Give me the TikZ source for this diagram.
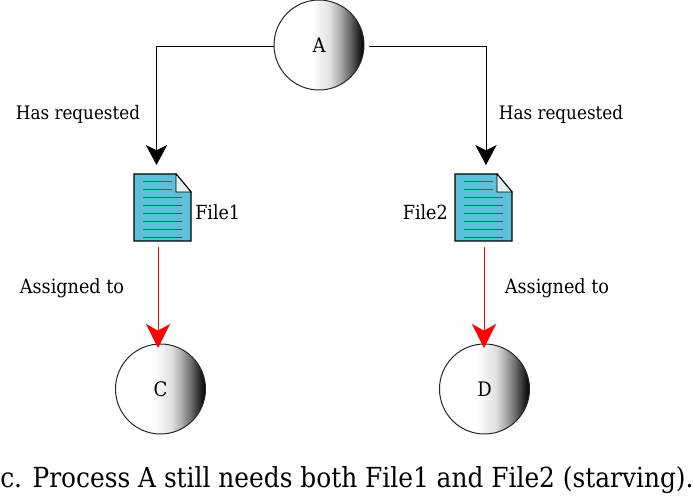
\documentclass[tikz,border=0pt]{standalone}
\usepackage{fontspec}
\setmainfont{DejaVu Serif Condensed}
\usetikzlibrary{arrows.meta}
\definecolor{docblue}{HTML}{5FC0DC}
\definecolor{docfold}{HTML}{E2F1EE}
\definecolor{docline}{HTML}{35606F}
\pgfdeclarehorizontalshading{procshade}{100bp}{color(0bp)=(white);color(25bp)=(white);color(46bp)=(white);color(56bp)=(white!88!black);color(61.5bp)=(white!68!black);color(67bp)=(white!42!black);color(72.5bp)=(white!12!black);color(75bp)=(black);color(100bp)=(black)}
\tikzset{
  x=0.75pt,y=-0.75pt,
  proc/.style={circle,draw=black!85,line width=0.75pt,minimum size=67.5pt,inner sep=0pt,shading=procshade,font=\fontsize{15}{18}\selectfont},
  filebox/.style={minimum width=42.75pt,minimum height=50.25pt,inner sep=0pt},
  reqlbl/.style={font=\fontsize{14}{17}\selectfont,inner sep=0pt},
  asglbl/.style={font=\fontsize{14.7}{17}\selectfont,inner sep=0pt},
  flbl/.style={font=\fontsize{14.6}{17}\selectfont,inner sep=0pt},
  req/.style={draw=black,line width=0.75pt,-{Stealth[length=15pt,width=16pt,inset=4pt]}},
  asg/.style={draw=red,line width=0.75pt,-{Stealth[length=18pt,width=18pt,inset=5pt,fill=red]}},
  docedge/.style={draw=black,line width=1.1pt,line join=miter},
  docrow/.style={draw=docline,line width=0.75pt},
}
\newcommand{\docicon}[1]{%
  \path[fill=docblue,docedge] (#1) ++(-28.5,-33.5) -- ++(42,0) -- ++(15,18) -- ++(0,49) -- ++(-57,0) -- cycle;
  \path[fill=docfold,docedge,line width=0.6pt] (#1) ++(13.5,-33.5) -- ++(0,18) -- ++(15,0) -- cycle;
  \draw[docrow] (#1) ++(-19.5,-25.5) -- ++(29,0);
  \draw[docrow] (#1) ++(-19.5,-17.5) -- ++(29,0);
  \foreach \dy in {-9.5,-1.5,6.5,14.5,22.5,30.5}{\draw[docrow] (#1) ++(-19.5,\dy) -- ++(39,0);}
}
\begin{document}
\begin{tikzpicture}
\useasboundingbox (0,0) rectangle (694,499);
\node[proc] (A) at (319,45) {A};
\node[proc] (C) at (160.5,389) {C};
\node[proc] (D) at (484.5,389) {D};
\node[filebox] (F1) at (162.5,207.5) {};
\node[filebox] (F2) at (483.5,207.5) {};
\docicon{F1.center}
\docicon{F2.center}
\coordinate (t1) at (156.5,165);
\coordinate (t2) at (486,165);
\coordinate (s2) at (369,47);
\coordinate (s3) at (158,247);
\coordinate (t3) at (158,348);
\coordinate (s4) at (484,247);
\coordinate (t4) at (484,348);
\draw[req] (A.west |- s2) -| (t1);
\draw[req] (s2) -| (t2);
\draw[asg] (s3) -- (t3);
\draw[asg] (s4) -- (t4);
\node[reqlbl,anchor=center] (l1) at (78,114.5) {Has requested};
\node[reqlbl,anchor=center] (l2) at (561,114.5) {Has requested};
\node[flbl,anchor=west] (f1) at (195,212) {File1};
\node[flbl,anchor=east] (f2) at (448,212) {File2};
\node[asglbl,anchor=center] (l3) at (72,288.5) {Assigned to};
\node[asglbl,anchor=center] (l4) at (557,288.5) {Assigned to};
\node[anchor=west,inner sep=0pt,font=\fontsize{20.72}{26}\selectfont] (cap) at (0,480.5) {c. Process A still needs both File1 and File2 (starving).};
\end{tikzpicture}
\end{document}
